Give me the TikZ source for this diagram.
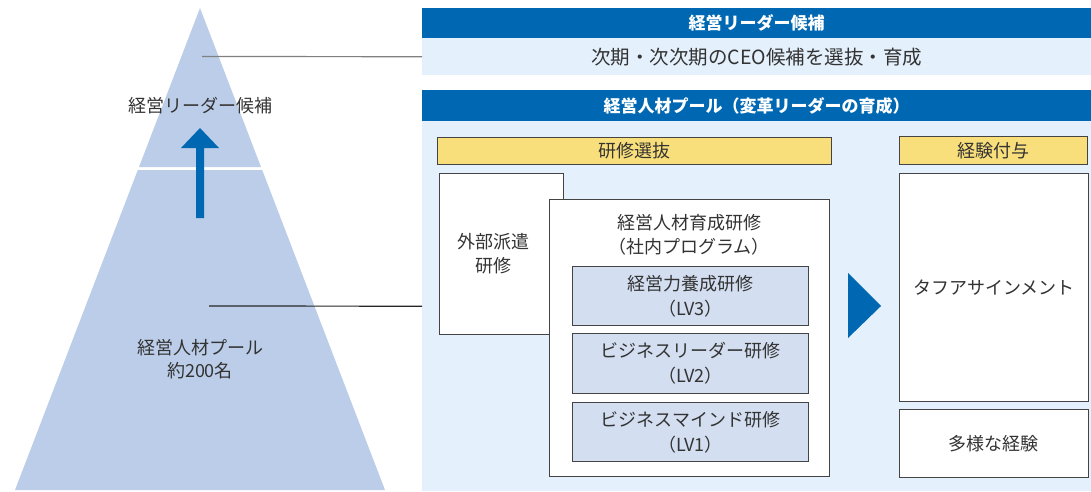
\documentclass[tikz,border=0pt]{standalone}
\usepackage{fontspec}
\setmainfont{Noto Sans CJK JP}
\usetikzlibrary{positioning}
\definecolor{hblue}{HTML}{0068B3}
\definecolor{lblue}{HTML}{E4F0FB}
\definecolor{pyr}{HTML}{BBCDE8}
\definecolor{inbox}{HTML}{D3DEF0}
\definecolor{ylw}{HTML}{F9DF7B}
\definecolor{txt}{HTML}{333333}
\definecolor{edge}{HTML}{444444}
\tikzset{
  body/.style={font=\fontsize{18}{24}\selectfont, text=txt, align=center, inner sep=0pt},
  head/.style={fill=hblue, draw=none, text=white, font=\fontsize{17}{22}\selectfont\bfseries, inner sep=0pt, anchor=north west},
  panel/.style={fill=lblue, draw=none, inner sep=0pt, anchor=north west, font=\fontsize{19.5}{24}\selectfont, text=txt},
  ybox/.style={fill=ylw, draw=edge, line width=0.8pt, inner sep=0pt, anchor=north west, font=\fontsize{18}{24}\selectfont, text=txt},
  wbox/.style={fill=white, draw=edge, line width=0.8pt, inner sep=0pt, anchor=north west, align=center, font=\fontsize{18}{24}\selectfont, text=txt},
  lvbox/.style={fill=inbox, draw=edge, line width=0.8pt, inner sep=0pt, anchor=north west, align=center, font=\fontsize{18}{25}\selectfont, text=txt},
  link/.style={line width=1.2pt}
}
\begin{document}
\begin{tikzpicture}[x=1pt,y=-1pt]
\useasboundingbox (0,0) rectangle (1091,491);
% pyramid
\fill[pyr] (200,8) -- (261,167) -- (139,167) -- cycle;
\fill[pyr] (137.8,170) -- (262.2,170) -- (385,490) -- (15,490) -- cycle;
% arrow
\fill[hblue] (196,218) -- (196,148) -- (181,148) -- (200,128) -- (219,148) -- (204,148) -- (204,218) -- cycle;
\node[body] (ltop) at (200,106) {経営リーダー候補};
\node[body, font=\fontsize{18}{23}\selectfont] (lpool) at (200,359.5) {経営人材プール\\約200名};
% panel 1
\node[head, minimum width=669pt, minimum height=30pt] (h1) at (422,8) {経営リーダー候補};
\node[panel, minimum width=669pt, minimum height=37pt] (b1) at (422,38) {次期・次次期のCEO候補を選抜・育成};
% panel 2
\node[head, minimum width=669pt, minimum height=31pt] (h2) at (422,90) {経営人材プール（変革リーダーの育成）};
\node[panel, minimum width=669pt, minimum height=370pt] (b2) at (422,121) {};
% connectors
\coordinate (c1) at (202,56.5);
\coordinate (c2) at (209,306);
\draw[link, draw=gray] (c1) -- (b1.west);
\draw[link, draw=black!85] (c2) -- (b2.west);
% training selection
\node[ybox, minimum width=394pt, minimum height=27pt] (sel) at (437,137) {研修選抜};
\node[wbox, minimum width=124pt, minimum height=161pt] (ext) at (439,173) {};
\node[body] (extt) at (493,254) {外部派遣\\研修};
\node[wbox, minimum width=280pt, minimum height=277pt] (int) at (549,199) {};
\node[body] (intt) at (689,235) {経営人材育成研修\\（社内プログラム）};
\node[lvbox, minimum width=236pt, minimum height=59pt] (lv3) at (572,266) {経営力養成研修\\（LV3）};
\node[lvbox, minimum width=236pt, minimum height=60pt] (lv2) at (572,333) {ビジネスリーダー研修\\（LV2）};
\node[lvbox, minimum width=236pt, minimum height=59pt] (lv1) at (572,402) {ビジネスマインド研修\\（LV1）};
% triangle
\fill[hblue] (848,273) -- (881,306) -- (848,338) -- cycle;
% experience
\node[ybox, minimum width=188pt, minimum height=28pt] (exp) at (899,136) {経験付与};
\node[wbox, minimum width=189pt, minimum height=228pt] (tough) at (899,173) {タフアサインメント};
\node[wbox, minimum width=189pt, minimum height=68pt] (div) at (899,409) {多様な経験};
\end{tikzpicture}
\end{document}
